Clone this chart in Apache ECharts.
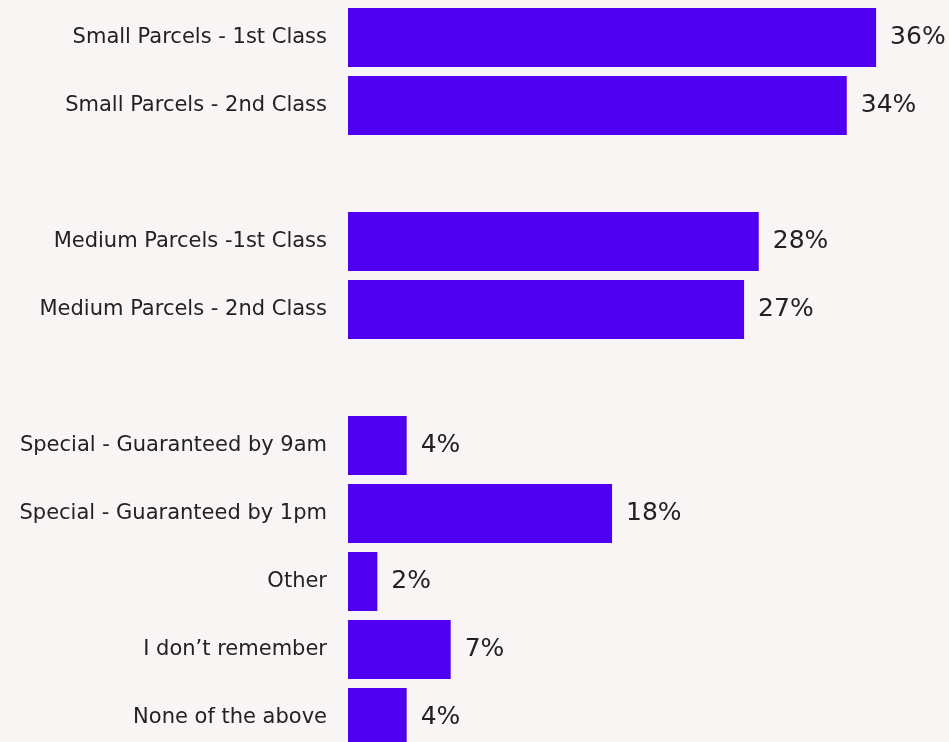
<!DOCTYPE html>
<html>
<head>
<meta charset="utf-8">
<script src="https://cdn.jsdelivr.net/npm/echarts@6/dist/echarts.min.js"></script>
<style>
  html, body { margin: 0; padding: 0; background: #f8f5f4; overflow: hidden; }
  #chart { width: 949px; height: 760px; }
</style>
</head>
<body>
<div id="chart"></div>
<script>
// categories (blank slots make the gaps between groups)
var categories = [
  'Small Parcels - 1st Class',
  'Small Parcels - 2nd Class',
  ' ',
  'Medium Parcels -1st Class',
  'Medium Parcels - 2nd Class',
  '  ',
  'Special - Guaranteed by 9am',
  'Special - Guaranteed by 1pm',
  'Other',
  'I don\u2019t remember',
  'None of the above'
];
var values = [36, 34, null, 28, 27, null, 4, 18, 2, 7, 4];

var chart = echarts.init(document.getElementById('chart'));
var option = {
  backgroundColor: '#f8f5f4',
  animation: false,
  grid: {
    left: 348,
    top: 3.5,
    width: 586.8,
    height: 748,
    containLabel: false
  },
  xAxis: {
    type: 'value',
    min: 0,
    max: 40,
    show: false
  },
  yAxis: {
    type: 'category',
    inverse: true,
    data: categories,
    axisLine: { show: false },
    axisTick: { show: false },
    axisLabel: {
      margin: 21,
      fontSize: 21,
      color: '#222222',
      fontFamily: '"DejaVu Sans", sans-serif'
    }
  },
  series: [{
    type: 'bar',
    data: values,
    barWidth: 59,
    itemStyle: { color: '#5000f0' },
    label: {
      show: true,
      position: 'right',
      distance: 14,
      fontSize: 25,
      color: '#222222',
      fontFamily: '"DejaVu Sans", sans-serif',
      formatter: function (p) { return p.value + '%'; }
    }
  }]
};
chart.setOption(option);
</script>
</body>
</html>
